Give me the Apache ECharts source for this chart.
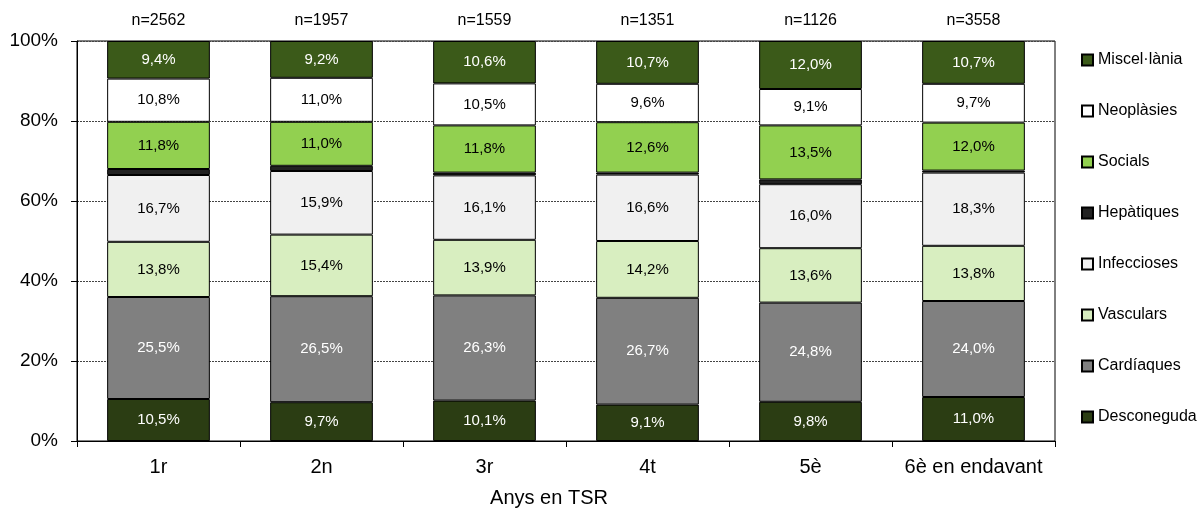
<!DOCTYPE html>
<html>
<head>
<meta charset="utf-8">
<script src="https://cdn.jsdelivr.net/npm/echarts@6/dist/echarts.min.js"></script>
<style>
html, body { margin: 0; padding: 0; background: #fff; }
#chart { width: 1201px; height: 510px; }
</style>
</head>
<body>
<div id="chart"></div>
<script>
var anys = ['1r', '2n', '3r', '4t', '5è', '6è en endavant'];
var mostres = ['n=2562', 'n=1957', 'n=1559', 'n=1351', 'n=1126', 'n=3558'];

// percentatges per causa, de baix a dalt
var desconeguda = [10.5, 9.7, 10.1, 9.1, 9.8, 11.0];
var cardiaques = [25.5, 26.5, 26.3, 26.7, 24.8, 24.0];
var vasculars = [13.8, 15.4, 13.9, 14.2, 13.6, 13.8];
var infeccioses = [16.7, 15.9, 16.1, 16.6, 16.0, 18.3];
var hepatiques = [1.5, 1.3, 0.7, 0.5, 1.2, 0.5];
var socials = [11.8, 11.0, 11.8, 12.6, 13.5, 12.0];
var neoplasies = [10.8, 11.0, 10.5, 9.6, 9.1, 9.7];
var miscellania = [9.4, 9.2, 10.6, 10.7, 12.0, 10.7];

var font = "'Liberation Sans', Arial, sans-serif";

function serie(nom, dades, color, textColor, ambEtiqueta) {
	return {
		name : nom,
		type : 'bar',
		stack : 'total',
		barWidth : '63%',
		data : dades,
		itemStyle : {
			color : color,
			borderColor : '#000',
			borderWidth : 1
		},
		label : {
			show : ambEtiqueta,
			position : 'inside',
			fontFamily : font,
			fontSize : 15,
			color : textColor,
			formatter : function(p) {
				return p.value.toFixed(1).replace('.', ',') + '%';
			}
		},
		emphasis : { disabled : true }
	};
}

var series = [
	serie('Desconeguda', desconeguda, '#2b3d13', '#fff', true),
	serie('Cardíaques', cardiaques, '#808080', '#fff', true),
	serie('Vasculars', vasculars, '#d8eec0', '#000', true),
	serie('Infeccioses', infeccioses, '#f0f0f0', '#000', true),
	serie('Hepàtiques', hepatiques, '#222222', '#fff', false),
	serie('Socials', socials, '#92d050', '#000', true),
	serie('Neoplàsies', neoplasies, '#ffffff', '#000', true),
	serie('Miscel·lània', miscellania, '#3b5a19', '#fff', true)
];

var option = {
	animation : false,
	backgroundColor : '#fff',
	textStyle : { fontFamily : font },
	grid : {
		left : 77,
		right : 146,
		top : 41,
		bottom : 69,
		outerBoundsMode : 'none',
		containLabel : false,
		show : true,
		borderColor : '#000',
		borderWidth : 1
	},
	legend : {
		orient : 'vertical',
		left : 1076,
		top : 47,
		icon : 'rect',
		itemWidth : 11,
		itemHeight : 11,
		itemGap : 35,
		textStyle : { fontFamily : font, fontSize : 16, color : '#000' },
		data : series.map(function(s) { return s.name; }).reverse()
	},
	xAxis : [ {
		type : 'category',
		data : anys,
		name : 'Anys en TSR',
		nameLocation : 'middle',
		nameGap : 47,
		nameTextStyle : { fontFamily : font, fontSize : 20, color : '#000', padding : [0, 34, 0, 0] },
		axisLine : { lineStyle : { color : '#000' } },
		axisTick : { show : true, length : 6, lineStyle : { color : '#000' } },
		axisLabel : { interval : 0, fontFamily : font, fontSize : 20, color : '#000', margin : 16 }
	}, {
		type : 'category',
		position : 'top',
		data : mostres,
		axisLine : { show : false },
		axisTick : { show : false },
		axisLabel : { interval : 0, fontFamily : font, fontSize : 16, color : '#000', margin : 12 }
	} ],
	yAxis : {
		type : 'value',
		min : 0,
		max : 100,
		interval : 20,
		axisLine : { show : true, lineStyle : { color : '#000' } },
		axisTick : { show : true, length : 6, lineStyle : { color : '#000' } },
		axisLabel : { formatter : '{value}%', fontFamily : font, fontSize : 19, color : '#000', margin : 19 },
		splitLine : { lineStyle : { color : '#444', type : [2, 1], width : 1 } }
	},
	series : series
};

echarts.init(document.getElementById('chart')).setOption(option);
</script>
</body>
</html>
